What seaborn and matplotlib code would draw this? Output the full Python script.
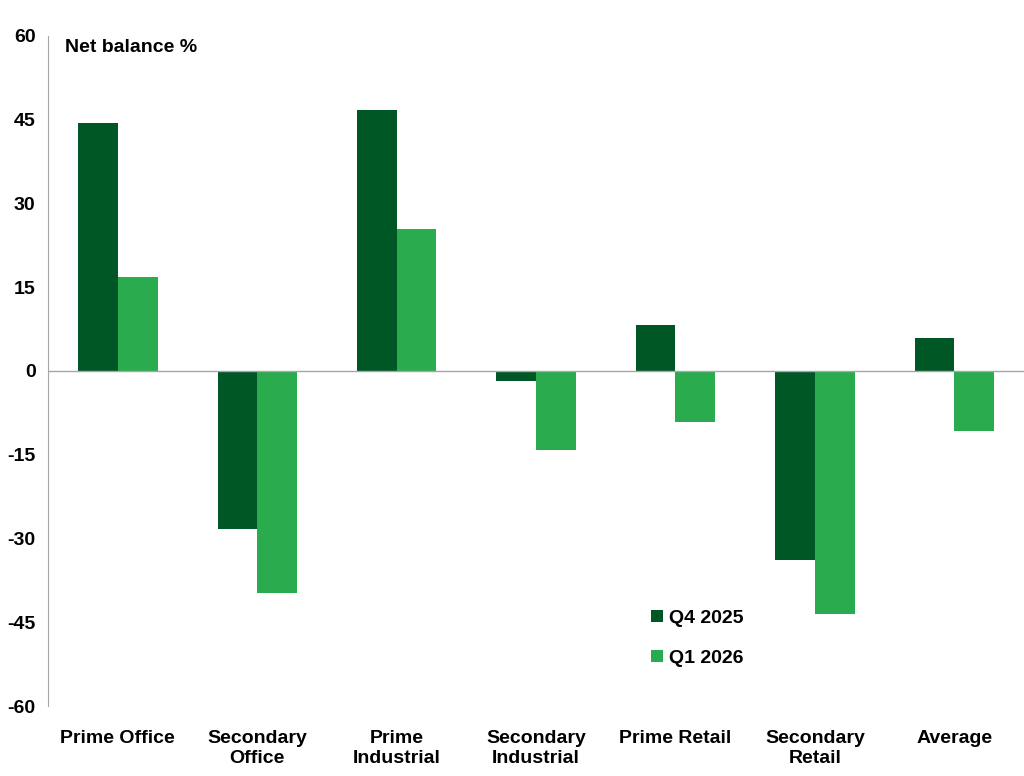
import pandas as pd
import matplotlib.pyplot as plt
import seaborn as sns

categories = ["Prime Office", "Secondary\nOffice", "Prime\nIndustrial", "Secondary\nIndustrial",
              "Prime Retail", "Secondary\nRetail", "Average"]
q4_2025 = [44.4, -28.3, 46.7, -1.8, 8.2, -33.9, 5.9]
q1_2026 = [16.8, -39.8, 25.4, -14.1, -9.1, -43.5, -10.7]
series_names = ["Q4 2025", "Q1 2026"]
y_ticks = [60, 45, 30, 15, 0, -15, -30, -45, -60]

sns.set_style("white")
plt.rcParams['font.family'] = ['Liberation Sans Narrow', 'Liberation Sans', 'DejaVu Sans']
plt.rcParams['font.weight'] = 'bold'
plt.rcParams['axes.unicode_minus'] = False
plt.rcParams['text.color'] = 'black'
plt.rcParams['xtick.color'] = 'black'
plt.rcParams['ytick.color'] = 'black'

df = pd.DataFrame({
    "category": categories * 2,
    "value": q4_2025 + q1_2026,
    "series": [series_names[0]] * len(categories) + [series_names[1]] * len(categories),
})

fig = plt.figure(figsize=(10.24, 7.76), dpi=100)
ax = fig.add_axes([0.047, 0.090, 0.953, 0.864])

sns.barplot(data=df, x="category", y="value", hue="series", order=categories,
            hue_order=series_names, palette=["#005726", "#2AAB4E"], width=0.57,
            saturation=1, linewidth=0, ax=ax)

ax.set_ylim(-60, 60)
ax.set_xlim(-0.5, len(categories) - 0.5)
ax.set_yticks(y_ticks)
ax.tick_params(axis="both", length=0, labelsize=14, labelcolor="black")
ax.tick_params(axis="y", pad=9)
ax.tick_params(axis="x", pad=17)
ax.set_xlabel("")
ax.set_ylabel("")
for lab in ax.get_xticklabels() + ax.get_yticklabels():
    lab.set_fontweight("bold")
    lab.set_linespacing(1.25)

for s in ["top", "right", "bottom"]:
    ax.spines[s].set_visible(False)
ax.spines["left"].set_color("#a6a6a6")
ax.axhline(0, color="#a6a6a6", lw=1)

ax.text(0.017, 0.995, "Net balance %", transform=ax.transAxes, fontsize=14,
        fontweight="bold", va="top", ha="left", color="black")

leg = ax.legend(loc="upper left", bbox_to_anchor=(0.6, 0.17), frameon=False,
                fontsize=14, handlelength=0.6, handleheight=0.6, handletextpad=0.3,
                labelspacing=1.2)
for t in leg.get_texts():
    t.set_fontweight("bold")
    t.set_color("black")

fig.savefig("out.png", dpi=100)
